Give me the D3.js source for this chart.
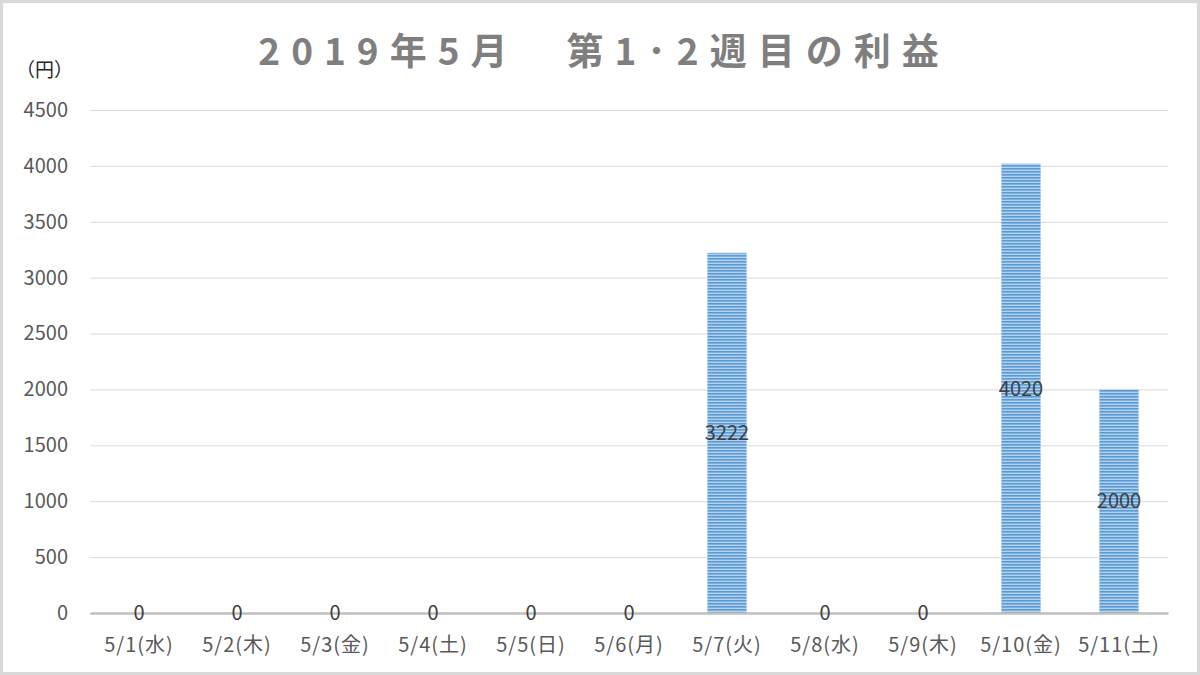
<!DOCTYPE html>
<html>
<head>
<meta charset="utf-8">
<script src="https://cdn.jsdelivr.net/npm/d3@7"></script>
<style>
  html, body { margin: 0; padding: 0; background: #fff; }
  svg { display: block; }
  text { font-family: "Noto Sans CJK JP", "Noto Sans", sans-serif; }
</style>
</head>
<body>
<div id="chart"></div>
<script>
// data
const days = ["5/1(水)", "5/2(木)", "5/3(金)", "5/4(土)", "5/5(日)", "5/6(月)",
              "5/7(火)", "5/8(水)", "5/9(木)", "5/10(金)", "5/11(土)"];
const profit = [0, 0, 0, 0, 0, 0, 3222, 0, 0, 4020, 2000];
const yTicks = [0, 500, 1000, 1500, 2000, 2500, 3000, 3500, 4000, 4500];
const title = "2019年5月　第1･2週目の利益";
const unit = "（円）";

const width = 1200, height = 675;
const margin = { top: 110, left: 90, bottom: 62, right: 32 };
const iwidth = width - margin.left - margin.right;
const iheight = height - margin.top - margin.bottom;

const svg = d3.select("#chart").append("svg")
    .attr("width", width)
    .attr("height", height);

// stripe fill like the Excel pattern
const defs = svg.append("defs");
const pat = defs.append("pattern")
    .attr("id", "stripes")
    .attr("patternUnits", "userSpaceOnUse")
    .attr("width", 8).attr("height", 3);
pat.append("rect").attr("width", 8).attr("height", 3).attr("fill", "#b4d1ee");
pat.append("rect").attr("y", 1).attr("width", 8).attr("height", 1.6).attr("fill", "#5b9bd5");

// outer border
svg.append("rect")
    .attr("x", 1.5).attr("y", 1.5)
    .attr("width", width - 3).attr("height", height - 3)
    .attr("fill", "#fff")
    .attr("stroke", "#d9d9d9")
    .attr("stroke-width", 3);

svg.append("text")
    .attr("x", 604).attr("y", 65)
    .attr("text-anchor", "middle")
    .style("font-size", "37px")
    .style("font-weight", "bold")
    .style("letter-spacing", "11px")
    .style("fill", "#7f7f7f")
    .text(title);

svg.append("text")
    .attr("x", 16).attr("y", 77)
    .style("font-size", "19px")
    .style("fill", "#262626")
    .text(unit);

const g = svg.append("g").attr("transform", `translate(${margin.left},${margin.top})`);

const y = d3.scaleLinear()
    .domain([0, 4500])
    .range([iheight, 0]);

const x = d3.scaleBand()
    .domain(days)
    .range([0, iwidth])
    .paddingInner(0.6)
    .paddingOuter(0.3);

// gridlines + y labels
const yAxis = g.append("g")
    .call(d3.axisLeft(y).tickValues(yTicks).tickFormat(d3.format("d"))
        .tickSize(-iwidth).tickPadding(22))
    .call(s => s.select(".domain").remove());
yAxis.selectAll("line").attr("stroke", "#d9d9d9").attr("stroke-width", 1);
yAxis.selectAll("text")
    .style("font-size", "20px")
    .style("fill", "#595959")
    .style("font-family", "\"Noto Sans CJK JP\", sans-serif");

g.selectAll("rect.bar").data(profit)
  .enter().append("rect")
    .attr("class", "bar")
    .attr("x", (d, i) => x(days[i]))
    .attr("y", d => y(d))
    .attr("width", x.bandwidth())
    .attr("height", d => iheight - y(d))
    .attr("fill", "url(#stripes)");

// x axis
const xAxis = g.append("g")
    .attr("transform", `translate(0,${iheight})`)
    .call(d3.axisBottom(x).tickSize(0).tickPadding(25));
xAxis.select(".domain").attr("stroke", "#bfbfbf").attr("stroke-width", 2.5);
xAxis.selectAll("text")
    .style("font-size", "20px")
    .style("letter-spacing", "1px")
    .style("fill", "#595959")
    .style("font-family", "\"Noto Sans CJK JP\", sans-serif");

// data labels, centred in each bar
g.selectAll("text.lbl").data(profit)
  .enter().append("text")
    .attr("class", "lbl")
    .attr("x", (d, i) => x(days[i]) + x.bandwidth() / 2)
    .attr("y", d => (y(d) + iheight) / 2)
    .attr("dy", "0.36em")
    .attr("text-anchor", "middle")
    .style("font-size", "20px")
    .style("fill", "#404040")
    .text(d => d);
</script>
</body>
</html>
